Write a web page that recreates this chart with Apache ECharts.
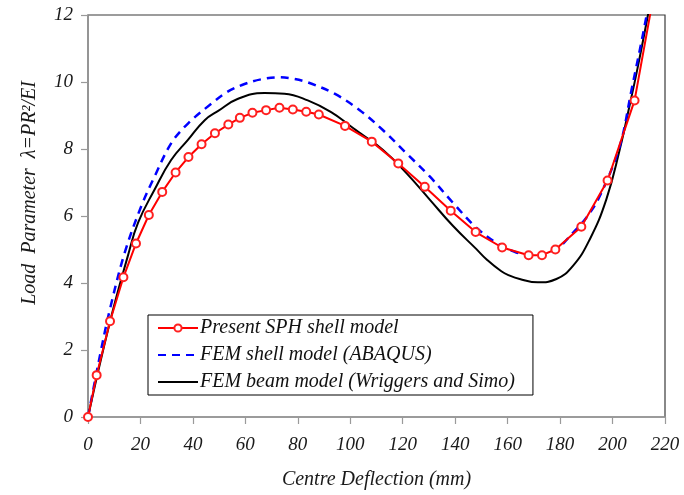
<!DOCTYPE html>
<html>
<head>
<meta charset="utf-8">
<script src="https://cdn.jsdelivr.net/npm/echarts@6/dist/echarts.min.js"></script>
<style>
  html, body { margin: 0; padding: 0; background: #fff; }
  #chart { width: 684px; height: 495px; }
</style>
</head>
<body>
<div id="chart"></div>
<script>
// Centre deflection (mm) and load parameter for each model
const sphX = [0, 3.3, 8.4, 13.5, 18.3, 23.2, 28.3, 33.4, 38.3, 43.3, 48.4, 53.5, 57.9, 62.7, 67.9, 73.0, 78.1, 83.2, 88.0, 98.0, 108.2, 118.3, 128.4, 138.3, 147.8, 157.9, 168.0, 173.1, 178.2, 188.1, 198.1, 208.4, 218];
const sphY = [0, 1.25, 2.86, 4.17, 5.18, 6.03, 6.72, 7.30, 7.76, 8.14, 8.47, 8.73, 8.93, 9.08, 9.16, 9.23, 9.18, 9.11, 9.03, 8.69, 8.22, 7.57, 6.87, 6.16, 5.52, 5.06, 4.83, 4.83, 5.00, 5.68, 7.06, 9.45, 13.6];

const shellX = [0, 4.6, 8.4, 14.0, 20.3, 25.4, 31.7, 38.1, 47.0, 53.0, 59.7, 66.0, 72.4, 78.0, 83.8, 94.0, 103.6, 112.5, 121.4, 130.3, 139.2, 148.1, 155.7, 163.3, 170.9, 178.6, 184.9, 190.0, 195.1, 202.7, 207.2, 213.0, 216.0];
const shellY = [0, 1.85, 3.23, 4.91, 6.29, 7.18, 8.17, 8.76, 9.35, 9.70, 9.94, 10.08, 10.14, 10.10, 9.99, 9.65, 9.16, 8.56, 7.87, 7.18, 6.39, 5.65, 5.20, 4.91, 4.81, 5.01, 5.50, 5.95, 6.59, 8.07, 9.75, 12.0, 13.5];

const beamX = [0, 8.4, 15.2, 19.1, 25.4, 31.7, 38.1, 44.5, 49.5, 57.2, 67.3, 74.9, 83.8, 92.7, 100.3, 103.6, 112.5, 121.4, 130.3, 139.2, 148.1, 151.9, 157.6, 160.8, 164.6, 171.5, 178.6, 184.9, 191.3, 197.6, 202.7, 206.5, 209.5, 213.5, 217.0];
const beamY = [0, 2.85, 4.81, 5.80, 6.79, 7.67, 8.27, 8.86, 9.13, 9.50, 9.67, 9.65, 9.45, 9.10, 8.67, 8.48, 7.97, 7.28, 6.49, 5.70, 5.01, 4.71, 4.35, 4.22, 4.12, 4.02, 4.12, 4.51, 5.30, 6.49, 7.97, 9.30, 10.4, 12.0, 13.5];

const xTicks = { min: 0, max: 220, step: 20 };
const yTicks = { min: 0, max: 12, step: 2 };

const seriesNames = ['Present SPH shell model', 'FEM shell model (ABAQUS)', 'FEM beam model (Wriggers and Simo)'];

const pairs = (xs, ys) => xs.map((x, i) => [x, ys[i]]);

const serif = 'Liberation Serif';
const tickFont = { fontFamily: serif, fontStyle: 'italic', fontSize: 19, color: '#1a1a1a' };
const nameFont = { fontFamily: serif, fontStyle: 'italic', fontSize: 20, color: '#1a1a1a' };

// lines without markers: hide the legend's marker dot, keep the line sample
const hiddenDot = { opacity: 0, borderWidth: 0 };

const chart = echarts.init(document.getElementById('chart'), null, { renderer: 'canvas' });
chart.setOption({
  backgroundColor: '#ffffff',
  animation: false,
  grid: {
    left: 88, right: 19, top: 15, bottom: 76,
    show: true, borderColor: '#3a3a3a', borderWidth: 1.2, backgroundColor: 'transparent'
  },
  legend: {
    orient: 'vertical',
    left: 148, top: 315,
    padding: [3, 18, 3, 9],
    itemGap: 7,
    itemWidth: 40, itemHeight: 9,
    borderColor: '#000', borderWidth: 1,
    backgroundColor: '#fff',
    textStyle: { fontFamily: serif, fontStyle: 'italic', fontSize: 20, color: '#111', lineHeight: 20, padding: [0, 0, 0, -3] },
    data: [
      { name: seriesNames[0] },
      { name: seriesNames[1], itemStyle: hiddenDot },
      { name: seriesNames[2], itemStyle: hiddenDot }
    ]
  },
  xAxis: {
    type: 'value',
    min: xTicks.min, max: xTicks.max, interval: xTicks.step,
    name: 'Centre Deflection (mm)',
    nameLocation: 'middle', nameGap: 53,
    nameTextStyle: nameFont,
    axisLine: { show: true, lineStyle: { color: '#9a9a9a', width: 1.5 } },
    axisTick: { show: true, inside: false, length: 7, lineStyle: { color: '#9a9a9a', width: 1.2 } },
    axisLabel: Object.assign({ margin: 18 }, tickFont),
    splitLine: { show: false }
  },
  yAxis: {
    type: 'value',
    min: yTicks.min, max: yTicks.max, interval: yTicks.step,
    name: 'Load  Parameter  λ=PR²/EI',
    nameLocation: 'middle', nameGap: 48,
    nameTextStyle: Object.assign({ padding: [0, 0, 0, 46] }, nameFont),
    axisLine: { show: true, lineStyle: { color: '#9a9a9a', width: 1.5 } },
    axisTick: { show: true, inside: false, length: 7, lineStyle: { color: '#9a9a9a', width: 1.2 } },
    axisLabel: Object.assign({ margin: 15 }, tickFont),
    splitLine: { show: false }
  },
  series: [
    {
      name: seriesNames[0],
      type: 'line',
      data: pairs(sphX, sphY),
      clip: true,
      smooth: false,
      symbol: 'emptyCircle',
      symbolSize: 8,
      showSymbol: true,
      lineStyle: { color: '#ff0000', width: 2 },
      itemStyle: { color: '#ff2020', borderColor: '#ff2020', borderWidth: 1.2 },
      z: 4
    },
    {
      name: seriesNames[1],
      type: 'line',
      data: pairs(shellX, shellY),
      clip: true,
      smooth: 0.35,
      symbol: 'none',
      lineStyle: { color: '#0000ff', width: 2.5, type: [8, 6] },
      itemStyle: { color: '#0000ff' },
      z: 3
    },
    {
      name: seriesNames[2],
      type: 'line',
      data: pairs(beamX, beamY),
      clip: true,
      smooth: 0.45,
      symbol: 'none',
      lineStyle: { color: '#000000', width: 2 },
      itemStyle: { color: '#000000' },
      z: 2
    }
  ]
});
</script>
</body>
</html>
